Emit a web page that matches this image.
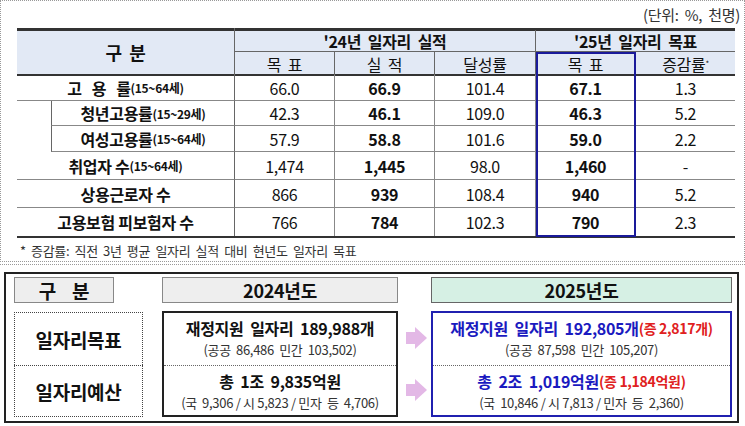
<!DOCTYPE html><html><head><meta charset="utf-8">
<script src="https://cdn.jsdelivr.net/npm/chart.js"></script>
<style>
body{margin:0;width:745px;height:426px;background:#fff;font-family:"Noto Sans CJK KR","Noto Sans",sans-serif;position:relative;overflow:hidden}
.a{position:absolute;box-sizing:border-box;display:flex;align-items:center;justify-content:center;text-align:center;white-space:pre;color:#111;letter-spacing:-0.3px}
</style></head><body>
<script>
const rowLabels=["고   용   률","청년고용률","여성고용률","취업자 수","상용근로자 수","고용보험 피보험자 수"];
const rowSuffix=["(15~64세)","(15~29세)","(15~64세)","(15~64세)","",""];
const target24=["66.0","42.3","57.9","1,474","866","766"];
const actual24=["66.9","46.1","58.8","1,445","939","784"];
const rate24=["101.4","109.0","101.6","98.0","108.4","102.3"];
const target25=["67.1","46.3","59.0","1,460","940","790"];
const change25=["1.3","5.2","2.2","-","5.2","2.3"];
const yearLabels=["2024년도","2025년도"];
const jobs=["재정지원  일자리  189,988개","재정지원  일자리  192,805개"];
const jobsSub=["(공공  86,486  민간  103,502)","(공공  87,598  민간  105,207)"];
const budget=["총  1조  9,835억원","총  2조  1,019억원"];
const budgetSub=["(국  9,306 / 시 5,823 / 민자  등  4,706)","(국  10,846 / 시 7,813 / 민자  등  2,360)"];

function d(x,y,w,h,html,style){const e=document.createElement('div');e.className='a';Object.assign(e.style,{left:x+'px',top:y+'px',width:w+'px',height:h+'px'},style||{});e.innerHTML=html;document.body.appendChild(e);return e;}
d(0,0,745,262,'',{border:'1px dotted #999'});
d(580,2,160,24,'(단위:  %,  천명)',{fontSize:'15px',justifyContent:'flex-end',color:'#333'});
const cx=[17,235,335,435,536,636,735];
d(17,28,718,47,'',{background:'#e2e9f5'});
d(17,28,718,3,'',{background:'#333'});
d(17,74,718,2,'',{background:'#333'});
d(17,28,218,47,'구  분',{fontSize:'18px',fontWeight:'bold',borderRight:'1px solid #666'});
d(235,30,301,22,"'24년  일자리  실적",{fontSize:'16px',fontWeight:'bold',borderBottom:'1px solid #666',borderRight:'1px solid #666'});
d(536,30,199,22,"'25년  일자리  목표",{fontSize:'16px',fontWeight:'bold',borderBottom:'1px solid #666'});
const sub=["목  표","실  적","달성률","목  표","증감률<sup style='font-size:8px'>*</sup>"];
for(let i=0;i<5;i++)d(cx[i+1],52,cx[i+2]-cx[i+1],23,sub[i],{fontSize:'16px',borderRight:i<4?'1px solid #666':''});
const ry=[75,101,126,152,180,208,237];
for(let r=0;r<6;r++){
  const y=ry[r],h=ry[r+1]-ry[r];
  const lx=(r==1||r==2)?51:17;
  d(lx,y,235-lx,h,'<b>'+rowLabels[r]+'</b><span style="font-size:12px;font-weight:bold">'+rowSuffix[r]+'</span>',{fontSize:'16px',borderBottom:'1px solid #888',borderRight:'1px solid #666',borderLeft:lx>17?'1px solid #666':''});
  const vals=[target24[r],actual24[r],rate24[r],target25[r],change25[r]];
  for(let i=0;i<5;i++)d(cx[i+1],y,cx[i+2]-cx[i+1],h,vals[i],{fontSize:'16px',fontWeight:(i==1||i==3)?'bold':'normal',borderBottom:'1px solid #888',borderRight:i<4?'1px solid #888':''});
}
d(17,236,718,2,'',{background:'#333'});
d(536,52,100,185,'',{border:'2px solid #1a1a9a',display:'block'});
d(20,240,500,20,'*  증감률:  직전  3년  평균  일자리  실적  대비  현년도  일자리  목표',{fontSize:'13px',justifyContent:'flex-start',color:'#333'});
d(0,264,745,1,'',{borderTop:'1px dotted #999'});
d(4,272,735,151,'',{border:'2px solid #222'});
d(14,277,100,26,'구    분',{fontSize:'19px',fontWeight:'bold',background:'#eee',border:'1px solid #888'});
d(162,277,236,26,yearLabels[0],{fontSize:'18px',fontWeight:'bold',background:'#eee',border:'1px solid #888'});
d(431,277,301,26,yearLabels[1],{fontSize:'18px',fontWeight:'bold',background:'#d6f0e4',border:'1px solid #666'});
d(14,312,129,53,'일자리목표',{fontSize:'19px',fontWeight:'bold',border:'1px dotted #444',borderBottom:'none'});
d(14,365,129,52,'일자리예산',{fontSize:'19px',fontWeight:'bold',border:'1px dotted #444'});
d(162,311,236,106,'',{border:'2px solid #222'});
d(431,311,301,106,'',{border:'2px solid #2020b0'});
d(433,365,297,1,'',{borderTop:'1px dotted #666'});
d(164,365,232,1,'',{borderTop:'1px dotted #666'});
function cell(x,w,y,main,subt,blue,inc){
  d(x,y,w,28,main+(inc?'<span style="color:#e02020;font-size:14px">'+inc+'</span>':''),{fontSize:'16px',fontWeight:'bold',color:blue?'#1a1ac0':'#111'});
  d(x,y+24,w,22,subt,{fontSize:'13px',color:'#333'});
}
cell(162,236,314,jobs[0],jobsSub[0],false);
cell(431,301,314,jobs[1],jobsSub[1],true,'(증 2,817개)');
cell(162,236,367,budget[0],budgetSub[0],false);
cell(431,301,367,budget[1],budgetSub[1],true,'(증 1,184억원)');
for(const y of [332,384]){
  d(406,y,10,12,'',{background:'#e3b8e6'});
  d(415,y-5,12,22,'',{background:'#e3b8e6',clipPath:'polygon(0 0,100% 50%,0 100%)'});
}
</script>
</body></html>
